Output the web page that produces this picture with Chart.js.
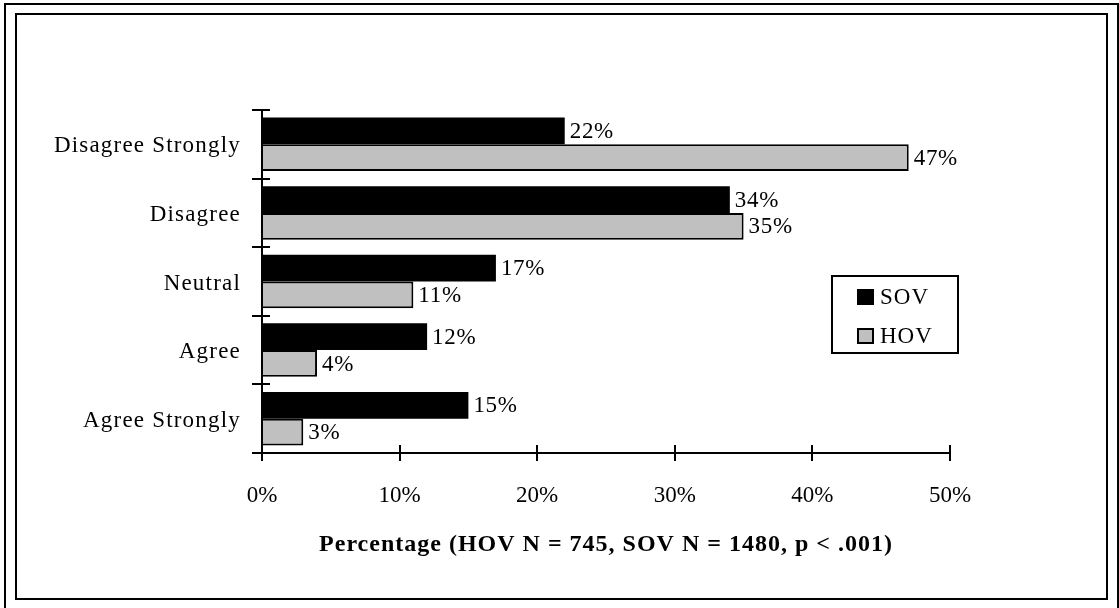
<!DOCTYPE html>
<html>
<head>
<meta charset="utf-8">
<script src="https://cdn.jsdelivr.net/npm/chart.js@4"></script>
<style>
  html, body { margin: 0; padding: 0; background: #fff; }
  #wrap { width: 1119px; height: 608px; position: relative; }
</style>
</head>
<body>
<div id="wrap"><canvas id="c" width="1119" height="608"></canvas></div>
<script>
const categories = ["Disagree Strongly", "Disagree", "Neutral", "Agree", "Agree Strongly"];
const sovValues = [22, 34, 17, 12, 15];
const hovValues = [47, 35, 11, 4, 3];
const seriesNames = ["SOV", "HOV"];
const xTicks = [0, 10, 20, 30, 40, 50];
const axisTitle = "Percentage (HOV N = 745, SOV N = 1480, p < .001)";

const SERIF = "'Liberation Serif', 'Times New Roman', serif";
const FS = 23;

const framePlugin = {
  id: 'frame',
  beforeDraw(chart) {
    const ctx = chart.ctx;
    ctx.save();
    ctx.fillStyle = '#fff';
    ctx.fillRect(0, 0, chart.width, chart.height);
    ctx.strokeStyle = '#000';
    ctx.lineWidth = 2;
    ctx.beginPath();
    ctx.moveTo(5, 612); ctx.lineTo(5, 4); ctx.lineTo(1118, 4); ctx.lineTo(1118, 612);
    ctx.stroke();
    ctx.strokeRect(16, 14, 1091, 585);
    ctx.restore();
  }
};

// letter spacing for category labels and axis title
function wrapSpacing(scale, method, spacing) {
  const key = '_wrapped_' + method;
  if (scale[key]) return;
  const orig = scale[method];
  scale[method] = function () {
    const ctx = this.ctx;
    ctx.save();
    ctx.letterSpacing = spacing;
    const r = orig.apply(this, arguments);
    ctx.restore();
    return r;
  };
  scale[key] = true;
}
const spacingPlugin = {
  id: 'spacing',
  afterLayout(chart) {
    wrapSpacing(chart.scales.y, 'drawLabels', '1.2px');
    wrapSpacing(chart.scales.x, 'drawTitle', '1px');
  }
};

const ticksPlugin = {
  id: 'crossTicks',
  afterDraw(chart) {
    const ctx = chart.ctx;
    const x = chart.scales.x, y = chart.scales.y;
    ctx.save();
    ctx.strokeStyle = '#000';
    ctx.lineWidth = 2;
    const x0 = x.getPixelForValue(0);
    const yTop = y.getPixelForValue(-0.5);
    const yb = y.getPixelForValue(categories.length - 0.5);
    ctx.beginPath();
    ctx.moveTo(x0, yTop); ctx.lineTo(x0, yb);
    ctx.moveTo(x0, yb); ctx.lineTo(x.getPixelForValue(xTicks[xTicks.length - 1]), yb);
    for (let i = 0; i <= categories.length; i++) {
      const py = Math.round(y.getPixelForValue(i - 0.5));
      ctx.moveTo(x0 - 10, py); ctx.lineTo(x0 + 8, py);
    }
    for (const v of xTicks) {
      const px = Math.round(x.getPixelForValue(v));
      ctx.moveTo(px, yb - 8); ctx.lineTo(px, yb + 8);
    }
    ctx.stroke();

    // value labels
    ctx.fillStyle = '#000';
    ctx.font = FS + 'px ' + SERIF;
    ctx.letterSpacing = '0.7px';
    ctx.textAlign = 'left';
    ctx.textBaseline = 'middle';
    chart.data.datasets.forEach((ds, di) => {
      const meta = chart.getDatasetMeta(di);
      meta.data.forEach((bar, i) => {
        ctx.fillText(ds.data[i] + '%', bar.x + 5, bar.y + 1);
      });
    });

    // legend
    ctx.letterSpacing = '1px';
    const lx = 832, ly = 276, lw = 126, lh = 77;
    ctx.fillStyle = '#fff';
    ctx.fillRect(lx, ly, lw, lh);
    ctx.strokeRect(lx, ly, lw, lh);
    chart.data.datasets.forEach((ds, di) => {
      const cy = 297 + di * 39;
      ctx.fillStyle = ds.backgroundColor;
      ctx.fillRect(857, cy - 8, 17, 16);
      if (ds.borderWidth) {
        ctx.lineWidth = 2;
        ctx.strokeStyle = '#000';
        ctx.strokeRect(858, cy - 7, 15, 14);
      }
      ctx.fillStyle = '#000';
      ctx.fillText(ds.label, 880, cy + 1);
    });
    ctx.restore();
  }
};

new Chart(document.getElementById('c'), {
  type: 'bar',
  data: {
    labels: categories,
    datasets: [
      { label: seriesNames[0], data: sovValues, backgroundColor: '#000000', borderWidth: 0,
        categoryPercentage: 0.78, barPercentage: 1.0 },
      { label: seriesNames[1], data: hovValues, backgroundColor: '#c0c0c0', borderColor: '#000000', borderWidth: 2,
        categoryPercentage: 0.78, barPercentage: 1.0 }
    ]
  },
  options: {
    indexAxis: 'y',
    responsive: false,
    animation: false,
    events: [],
    layout: { padding: { top: 110, right: 169, left: 0, bottom: 45 } },
    plugins: {
      legend: { display: false },
      tooltip: { enabled: false },
      title: { display: false }
    },
    scales: {
      x: {
        min: 0, max: 50,
        afterBuildTicks(scale) { scale.ticks = xTicks.map(v => ({ value: v })); },
        afterFit(scale) { scale.height = 110; },
        grid: { display: false, drawTicks: false },
        border: { display: false },
        ticks: {
          color: '#000',
          font: { family: SERIF, size: FS },
          padding: 29,
          maxRotation: 0,
          callback: (v) => v + '%'
        },
        title: {
          display: true,
          text: axisTitle,
          color: '#000',
          font: { family: SERIF, size: 24, weight: 'bold' },
          padding: { top: 10, bottom: 4 }
        }
      },
      y: {
        afterFit(scale) { scale.width = 262; },
        grid: { display: false, drawTicks: false, offset: true },
        border: { display: false },
        offset: true,
        ticks: {
          color: '#000',
          font: { family: SERIF, size: FS },
          padding: 21,
          labelOffset: 2
        }
      }
    }
  },
  plugins: [framePlugin, spacingPlugin, ticksPlugin]
});
</script>
</body>
</html>
